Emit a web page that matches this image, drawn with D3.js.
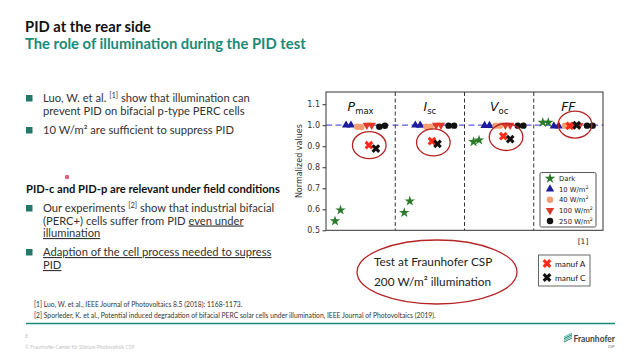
<!DOCTYPE html>
<html>
<head>
<meta charset="utf-8">
<script src="https://cdn.jsdelivr.net/npm/d3@7"></script>
<style>
  body { margin: 0; background: #fff; }
  svg text { font-family: Lato, "Open Sans", sans-serif; }
  .chart text { font-family: "DejaVu Sans", sans-serif; }
  .u { text-decoration: underline; }
</style>
</head>
<body>
<svg id="slide" width="640" height="360"></svg>
<script>
// chart data
var panelNames = ["Pmax", "Isc", "Voc", "FF"];
var seriesNames = ["Dark", "10 W/m", "40 W/m", "100 W/m", "250 W/m"];
var darkValues = [[0.544, 0.596], [0.584, 0.639], [0.921, 0.929], [1.013, 1.013]];
var w10Values = [[1.000, 1.000], [1.000, 0.999], [0.998, 0.998], [0.996, 0.996]];
var w40Values = [[0.993, 0.992], [0.993, 0.993], [0.998, 0.998], [0.998, 0.998]];
var w100Values = [[1.000, 1.000], [1.000, 1.000], [1.000, 1.000], [1.000, 0.999]];
var w250Values = [[0.993, 0.997], [0.998, 0.998], [0.998, 0.998], [0.998, 0.998]];
// sample x position inside each panel (panel = 1 unit)
var sampleX = [[0.13, 0.21], [0.29, 0.36], [0.45, 0.51], [0.59, 0.66], [0.77, 0.85]];
var manufA = [0.905, 0.924, 0.948, 0.997];
var manufC = [0.889, 0.911, 0.934, 1.000];
var manufAX = [0.62, 0.53, 0.56, 0.52];
var manufCX = [0.72, 0.61, 0.66, 0.62];
var yTicks = [0.5, 0.6, 0.7, 0.8, 0.9, 1.0, 1.1];

var teal = "#1a8a78";
var svg = d3.select("#slide");
svg.append("rect").attr("width", 640).attr("height", 360).attr("fill", "#fff");

// scale a text's font so it spans the given width
function fitText(sel, w) {
  var fs = +sel.attr("font-size");
  var len = sel.node().getComputedTextLength();
  sel.attr("font-size", (fs * w / len).toFixed(2));
  return sel;
}

// ---------- slide text ----------
fitText(svg.append("text").attr("x", 25).attr("y", 32).attr("font-size", 14.5)
  .attr("font-weight", "bold").attr("fill", "#111").text("PID at the rear side"), 126);
fitText(svg.append("text").attr("x", 25).attr("y", 49).attr("font-size", 14.5)
  .attr("font-weight", "bold").attr("fill", teal).text("The role of illumination during the PID test"), 281);

var body = svg.append("g").attr("fill", "#333").attr("font-size", 11.2);

function bullet(y) {
  body.append("rect").attr("x", 26).attr("y", y - 7).attr("width", 6.5).attr("height", 6.5)
    .attr("fill", "#1f7a6a");
}
function line(x, y) {
  return body.append("text").attr("x", x).attr("y", y);
}

bullet(102);
var t = line(43, 102);
t.append("tspan").text("Luo, W. et al. ");
t.append("tspan").attr("font-size", 7.5).attr("dy", -4).text("[1]");
t.append("tspan").attr("dy", 4).text(" show that illumination can");
line(43, 115).text("prevent PID on bifacial p-type PERC cells");
bullet(134);
line(43, 134).text("10 W/m² are sufficient to suppress PID");

body.append("text").attr("x", 26).attr("y", 193).attr("font-weight", "bold").attr("fill", "#111")
  .text("PID-c and PID-p are relevant under field conditions");

bullet(212);
t = line(43, 212);
t.append("tspan").text("Our experiments ");
t.append("tspan").attr("font-size", 7.5).attr("dy", -4).text("[2]");
t.append("tspan").attr("dy", 4).text(" show that industrial bifacial");
t = line(43, 224.5);
t.append("tspan").text("(PERC+) cells suffer from PID ");
t.append("tspan").attr("class", "u").text("even under");
line(43, 237).attr("class", "u").text("illumination");
bullet(256);
line(43, 256).attr("class", "u").text("Adaption of the cell process needed to supress");
line(43, 269).attr("class", "u").text("PID");

// laser pointer dot
svg.append("circle").attr("cx", 67).attr("cy", 177).attr("r", 2.2).attr("fill", "#e0607a");

// footnotes
svg.append("text").attr("x", 34).attr("y", 307).attr("font-size", 6.75).attr("fill", "#333")
  .text("[1] Luo, W. et al., IEEE Journal of Photovoltaics 8.5 (2018): 1168-1173.");
svg.append("text").attr("x", 34).attr("y", 318).attr("font-size", 6.75).attr("fill", "#333")
  .text("[2] Sporleder, K. et al., Potential induced degradation of bifacial PERC solar cells under illumination, IEEE Journal of Photovoltaics (2019).");
svg.append("line").attr("x1", 26).attr("x2", 615).attr("y1", 323.5).attr("y2", 323.5)
  .attr("stroke", teal).attr("stroke-width", 1.6);
svg.append("text").attr("x", 25).attr("y", 338).attr("font-size", 5).attr("fill", "#c4c4c4").text("8");
fitText(svg.append("text").attr("x", 25).attr("y", 349).attr("font-size", 5).attr("fill", "#c4c4c4")
  .text("© Fraunhofer-Center für Silizium-Photovoltaik CSP"), 110);

// Fraunhofer logo
var logo = svg.append("g");
[0, 1, 2, 3].forEach(function (k) {
  logo.append("path").attr("d", "M564," + (341.5 - k * 1.7) + " L572," + (337.5 - k * 1.7) + " L572," + (338.6 - k * 1.7) + " L564," + (342.6 - k * 1.7) + "Z")
    .attr("fill", k % 2 ? "#5fb8a5" : teal);
});
fitText(svg.append("text").attr("x", 573.5).attr("y", 341.8).attr("font-size", 8.3).attr("font-weight", "bold")
  .attr("fill", "#444").text("Fraunhofer"), 41.5);
svg.append("text").attr("x", 608).attr("y", 347.5).attr("font-size", 3.5).attr("fill", "#666").text("CSP");

// ---------- chart ----------
var plotL = 326, plotR = 603, plotT = 92, plotB = 230.3;
var chart = svg.append("g").attr("class", "chart");

var x = d3.scaleLinear().domain([0, 4]).range([plotL, plotR]);
var y = d3.scaleLinear().domain([0.5, 1.158]).range([plotB, plotT]);

var yAxis = chart.append("g").attr("transform", "translate(" + plotL + ",0)")
  .call(d3.axisLeft(y).tickValues(yTicks).tickFormat(d3.format(".1f")).tickSize(3.5).tickPadding(2.5));
yAxis.select(".domain").remove();
yAxis.selectAll("line").attr("stroke", "#333");
yAxis.selectAll("text").attr("font-size", 8).attr("fill", "#333");

chart.append("text").attr("transform", "translate(302," + ((plotT + plotB) / 2) + ") rotate(-90)")
  .attr("text-anchor", "middle").attr("font-size", 8).attr("fill", "#333").text("Normalized values");

// reference line at 1.0
chart.append("line").attr("x1", plotL).attr("x2", plotR).attr("y1", y(1)).attr("y2", y(1))
  .attr("stroke", "#5a5ae0").attr("stroke-width", 1.2).attr("stroke-dasharray", "6,3.5");

// panel dividers
chart.selectAll(".div").data([1, 2, 3]).enter().append("line")
  .attr("x1", function (d) { return x(d); }).attr("x2", function (d) { return x(d); })
  .attr("y1", plotT).attr("y2", plotB)
  .attr("stroke", "#333").attr("stroke-width", 1).attr("stroke-dasharray", "4,2.5");

// panel titles
var titles = chart.selectAll(".ttl").data(panelNames).enter().append("text")
  .attr("x", function (d, i) { return x(i + 0.5); }).attr("y", 111)
  .attr("text-anchor", "middle").attr("font-size", 12.5).attr("fill", "#111");
titles.each(function (d) {
  var el = d3.select(this);
  if (d === "FF") { el.append("tspan").attr("font-style", "italic").text("FF"); return; }
  el.append("tspan").attr("font-style", "italic").text(d.charAt(0));
  el.append("tspan").attr("font-size", 8.5).attr("dy", 2.5).text(d.slice(1));
});

var symStar = d3.symbol().type(d3.symbolStar).size(34);
var symTri = d3.symbol().type(d3.symbolTriangle).size(30);
var symCirc = d3.symbol().type(d3.symbolCircle).size(33);
var symX = d3.symbol().type(d3.symbolCross).size(48);

var series = [
  { name: seriesNames[0], values: darkValues, sym: symStar, color: "#2b7a2b", rot: 0 },
  { name: seriesNames[1], values: w10Values, sym: symTri, color: "#1c1c9c", rot: 0 },
  { name: seriesNames[2], values: w40Values, sym: symCirc, color: "#f2a070", rot: 0 },
  { name: seriesNames[3], values: w100Values, sym: symTri, color: "#e0392a", rot: 180 },
  { name: seriesNames[4], values: w250Values, sym: symCirc, color: "#111", rot: 0 }
];

series.forEach(function (s, si) {
  var pts = [];
  s.values.forEach(function (pair, p) {
    pair.forEach(function (v, k) { pts.push({ x: p + sampleX[si][k], v: v }); });
  });
  chart.append("g").selectAll("path").data(pts).enter().append("path")
    .attr("d", s.sym)
    .attr("fill", s.color)
    .attr("transform", function (d) {
      return "translate(" + x(d.x) + "," + y(d.v) + ") rotate(" + s.rot + ")";
    });
});

// manuf A / C crosses
function crosses(vals, xs, color) {
  chart.append("g").selectAll("path").data(vals).enter().append("path")
    .attr("d", symX).attr("fill", color)
    .attr("transform", function (d, i) {
      return "translate(" + x(i + xs[i]) + "," + y(d) + ") rotate(45)";
    });
}
crosses(manufA, manufAX, "#ff2a1a");
crosses(manufC, manufCX, "#111");

// red circles around the Fraunhofer measurements
var ringX = [0.625, 0.55, 0.6, 0.596];
var ringY = [0.905, 0.918, 0.944, 1.003];
chart.selectAll(".ring").data(ringX).enter().append("ellipse")
  .attr("cx", function (d, i) { return x(i + d); })
  .attr("cy", function (d, i) { return y(ringY[i]); })
  .attr("rx", 16.8).attr("ry", 13.5)
  .attr("fill", "none").attr("stroke", "#b52525").attr("stroke-width", 1.3);

// frame
chart.append("rect").attr("x", plotL).attr("y", plotT).attr("width", plotR - plotL).attr("height", plotB - plotT)
  .attr("fill", "none").attr("stroke", "#333").attr("stroke-width", 1);

// legend
var lg = chart.append("g");
lg.append("rect").attr("x", 540).attr("y", 172.5).attr("width", 56).attr("height", 54.5)
  .attr("fill", "#fff").attr("stroke", "#555").attr("stroke-width", 1).attr("rx", 1.5);
series.forEach(function (s, i) {
  var ly = 178.5 + i * 10.65;
  lg.append("path").attr("d", s.sym).attr("fill", s.color)
    .attr("transform", "translate(550," + ly + ") rotate(" + s.rot + ")");
  var tx = lg.append("text").attr("x", 559).attr("y", ly + 2.5).attr("font-size", 6.8).attr("fill", "#222");
  tx.append("tspan").text(s.name);
  if (i > 0) tx.append("tspan").attr("font-size", 4.8).attr("dy", -3).text("2");
});

chart.append("text").attr("x", 583).attr("y", 244).attr("text-anchor", "middle")
  .attr("font-size", 7.5).attr("fill", "#222").text("[1]");

// ---------- Fraunhofer CSP test annotation ----------
svg.append("ellipse").attr("cx", 437).attr("cy", 272).attr("rx", 80).attr("ry", 32)
  .attr("fill", "none").attr("stroke", "#b52525").attr("stroke-width", 1.3);
svg.append("text").attr("x", 374).attr("y", 265.5).attr("font-size", 11.8).attr("fill", "#222")
  .text("Test at Fraunhofer CSP");
svg.append("text").attr("x", 374).attr("y", 285.5).attr("font-size", 11.8).attr("fill", "#222")
  .text("200 W/m² illumination");

var lg2 = svg.append("g");
lg2.append("rect").attr("x", 538.5).attr("y", 255).attr("width", 51.5).attr("height", 31)
  .attr("fill", "#fff").attr("stroke", "#666").attr("stroke-width", 1);
[["manuf A", "#ff2a1a"], ["manuf C", "#111"]].forEach(function (m, i) {
  var ly = 263.5 + i * 14;
  lg2.append("path").attr("d", symX).attr("fill", m[1])
    .attr("transform", "translate(547," + ly + ") rotate(45)");
  lg2.append("text").attr("x", 555).attr("y", ly + 3).attr("font-size", 8.3).attr("fill", "#222").text(m[0]);
});
</script>
</body>
</html>
